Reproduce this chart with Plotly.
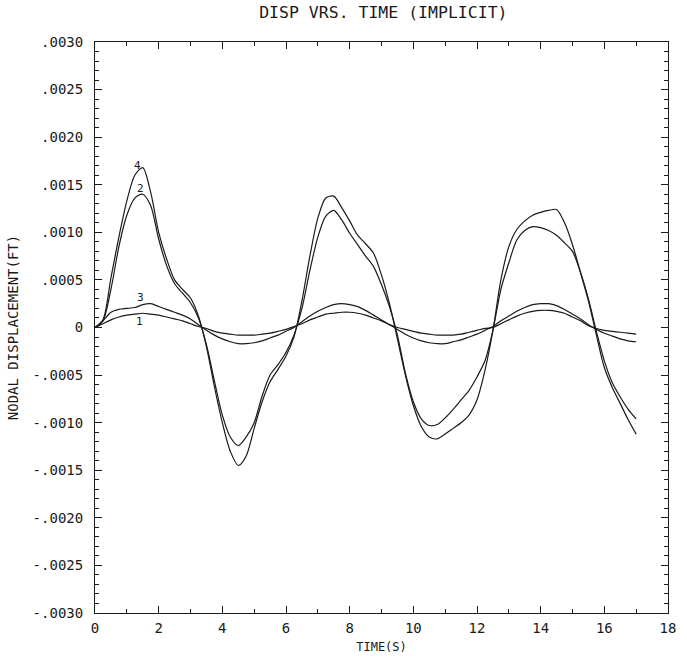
import plotly.graph_objects as go

time_s = [i * 0.25 for i in range(69)]

curve1 = [0, 0.00004, 0.00008, 0.00011, 0.00013, 0.00014, 0.00015, 0.00014, 0.00013, 0.00011,
          0.00009, 0.00007, 0.00004, 0.00001, -0.00001, -0.00004, -0.00006, -0.00007, -0.00008, -0.00008,
          -0.00008, -0.00007, -0.00006, -0.00004, -0.00002, 0.00001, 0.00004, 0.00008, 0.00011, 0.00014,
          0.00015, 0.00016, 0.00016, 0.00015, 0.00013, 0.00010, 0.00007, 0.00003, 0.0, -0.00002,
          -0.00004, -0.00006, -0.00007, -0.00008, -0.00008, -0.00008, -0.00007, -0.00005, -0.00003, -0.00001,
          0.0, 0.00004, 0.00008, 0.00012, 0.00015, 0.00017, 0.00018, 0.00018, 0.00017, 0.00015,
          0.00011, 0.00007, 0.00002, -0.00001, -0.00003, -0.00004, -0.00005, -0.00006, -0.00007]

curve3 = [0, 0.00007, 0.00016, 0.00019, 0.00020, 0.00021, 0.00024, 0.00025, 0.00022, 0.00019,
          0.00016, 0.00013, 0.00009, 0.00003, -0.00003, -0.00008, -0.00012, -0.00015, -0.00017, -0.00017,
          -0.00016, -0.00014, -0.00011, -0.00008, -0.00004, 0.0, 0.00006, 0.00012, 0.00017, 0.00021,
          0.00024, 0.00025, 0.00024, 0.00022, 0.00018, 0.00013, 0.00008, 0.00003, -0.00002, -0.00007,
          -0.00011, -0.00014, -0.00016, -0.00017, -0.00017, -0.00015, -0.00013, -0.00010, -0.00007, -0.00003,
          0.00001, 0.00007, 0.00012, 0.00017, 0.00021, 0.00024, 0.00025, 0.00025, 0.00023, 0.00019,
          0.00014, 0.00009, 0.00003, -0.00002, -0.00006, -0.00009, -0.00012, -0.00014, -0.00015]

curve2 = [0, 0.00007, 0.00040, 0.00085, 0.00118, 0.00136, 0.00140, 0.00128, 0.00093, 0.00065,
          0.00046, 0.00036, 0.00026, 0.00010, -0.00018, -0.00056, -0.00092, -0.00115, -0.00124, -0.00115,
          -0.00100, -0.00072, -0.00050, -0.00039, -0.00026, -0.00008, 0.00020, 0.00060, 0.00095, 0.00117,
          0.00123, 0.00113, 0.00099, 0.00087, 0.00075, 0.00064, 0.00045, 0.00022, -0.00008, -0.00048,
          -0.00078, -0.00096, -0.00103, -0.00102, -0.00095, -0.00086, -0.00076, -0.00066, -0.00052, -0.00035,
          -0.00003, 0.00040, 0.00068, 0.00092, 0.00102, 0.00106, 0.00105, 0.00102, 0.00097, 0.00089,
          0.00080, 0.00058, 0.00030, -0.00004, -0.00035, -0.00058, -0.00073, -0.00086, -0.00096]

curve4 = [0, 0.00008, 0.00052, 0.00095, 0.00133, 0.00160, 0.00168, 0.00142, 0.00100, 0.00072,
          0.00050, 0.00040, 0.00031, 0.00012, -0.00020, -0.00062, -0.00100, -0.00130, -0.00145, -0.00135,
          -0.00106, -0.00078, -0.00057, -0.00044, -0.00030, -0.00010, 0.00028, 0.00075, 0.00115, 0.00136,
          0.00138, 0.00126, 0.00112, 0.00097, 0.00088, 0.00078, 0.00055, 0.00025, -0.00012, -0.00050,
          -0.00082, -0.00104, -0.00115, -0.00117, -0.00112, -0.00106, -0.00100, -0.00092, -0.00076, -0.00045,
          -0.00003, 0.00050, 0.00085, 0.00103, 0.00112, 0.00118, 0.00121, 0.00123, 0.00124, 0.00110,
          0.00087, 0.00058, 0.00028, -0.00008, -0.00042, -0.00063, -0.00080, -0.00097, -0.00112]

curve_names = ["1", "2", "3", "4"]
label_t = [1.4, 1.42, 1.42, 1.32]
label_y = [0.00006, 0.00146, 0.00032, 0.00170]

x_ticks = list(range(0, 19, 2))
y_ticks = [-0.003, -0.0025, -0.002, -0.0015, -0.001, -0.0005, 0, 0.0005, 0.001, 0.0015, 0.002, 0.0025, 0.003]
y_tick_text = ["-.0030", "-.0025", "-.0020", "-.0015", "-.0010", "-.0005", "0",
               ".0005", ".0010", ".0015", ".0020", ".0025", ".0030"]

FONT = "DejaVu Sans Mono"
INK = "#1a1a1a"

fig = go.Figure()
for name, ys in zip(curve_names, [curve1, curve2, curve3, curve4]):
    fig.add_trace(go.Scatter(x=time_s, y=ys, mode="lines", name=name,
                             line=dict(color=INK, width=1.2, shape="spline", smoothing=0.8),
                             showlegend=False, hoverinfo="skip"))

for name, tx, ty in zip(curve_names, label_t, label_y):
    fig.add_annotation(x=tx, y=ty, text=name, showarrow=False,
                       font=dict(family=FONT, size=11, color=INK))

axis_common = dict(showline=True, linecolor=INK, linewidth=1, mirror="ticks",
                   ticks="inside", tickcolor=INK, ticklen=7, tickwidth=1,
                   showgrid=False, zeroline=False, automargin=False,
                   tickfont=dict(family=FONT, size=14, color=INK))

fig.update_layout(
    width=687, height=657,
    margin=dict(l=95, r=19, t=42, b=44),
    paper_bgcolor="white", plot_bgcolor="white",
    title=dict(text="DISP VRS. TIME (IMPLICIT)", x=0.558, xanchor="center", y=0.99, yanchor="top",
               font=dict(family=FONT, size=16.5, color=INK)),
    xaxis=dict(range=[0, 18], tickvals=x_ticks, ticktext=[str(v) for v in x_ticks],
               minor=dict(dtick=1, ticks="inside", ticklen=4, tickcolor=INK),
               ticklabelstandoff=2,
               title=dict(text="TIME(S)", font=dict(family=FONT, size=12, color=INK), standoff=7),
               **axis_common),
    yaxis=dict(range=[-0.003, 0.003], tickvals=y_ticks, ticktext=y_tick_text,
               minor=dict(dtick=0.0001, tick0=0, ticks="inside", ticklen=4, tickcolor=INK),
               ticklabelstandoff=8,
               title=dict(text="NODAL DISPLACEMENT(FT)", font=dict(family=FONT, size=14, color=INK), standoff=10),
               **axis_common),
)

fig.write_html("out.html")
